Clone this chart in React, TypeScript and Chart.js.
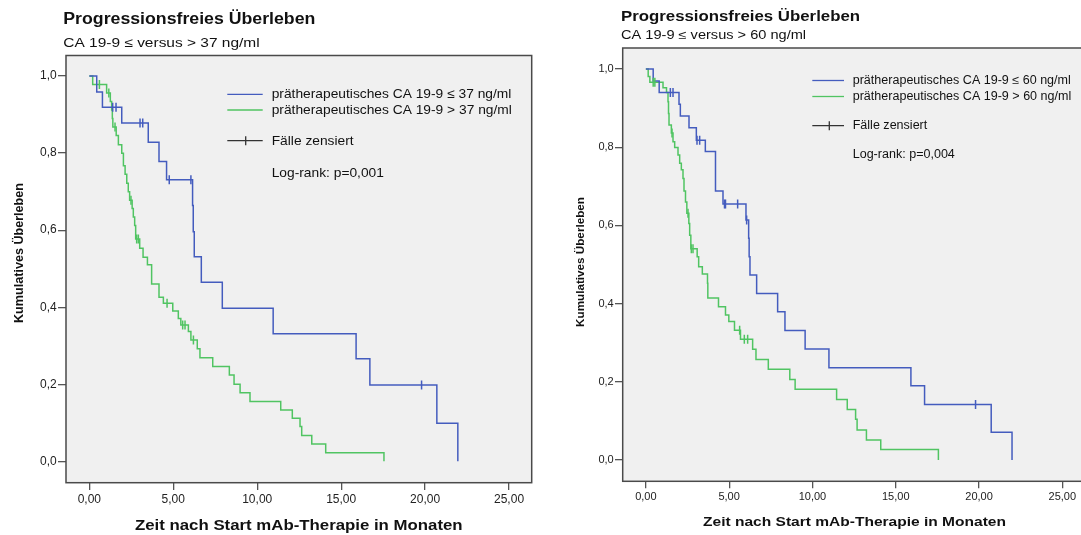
import React, { useEffect, useRef } from 'react';
import { Chart, registerables } from 'chart.js';

Chart.register(...registerables);

const FONT = '"Liberation Sans", Arial, Helvetica, sans-serif';
const BLUE = 'rgb(68, 92, 190)';
const GREEN = 'rgb(80, 196, 98)';

// ---------- axis ticks ----------
const xTickValues = [0, 5, 10, 15, 20, 25];
const xTickLabels = ['0,00', '5,00', '10,00', '15,00', '20,00', '25,00'];
const yTickValues = [0, 0.2, 0.4, 0.6, 0.8, 1.0];
const yTickLabels = ['0,0', '0,2', '0,4', '0,6', '0,8', '1,0'];

// ---------- left panel: CA 19-9 <= / > 37 ng/ml ----------
const leftLowTimes = [0, 0.44, 0.78, 1.93, 3.51, 4.15, 4.6, 6.15, 6.19, 6.25, 6.67, 7.92, 10.95, 15.89, 16.71, 20.7, 21.95];
const leftLowSurv = [1.0, 0.959, 0.919, 0.878, 0.828, 0.778, 0.731, 0.664, 0.596, 0.531, 0.465, 0.397, 0.331, 0.266, 0.198, 0.099, 0];
const leftLowCensorTimes = [1.39, 1.59, 3.02, 3.18, 4.76, 6.05, 19.79];
const leftLowCensorSurv = [0.919, 0.919, 0.878, 0.878, 0.731, 0.731, 0.198];

const leftHighTimes = [0, 0.2, 1.03, 1.25, 1.33, 1.37, 1.4, 1.6, 1.73, 1.93, 2.03, 2.13, 2.23, 2.32, 2.4, 2.55, 2.62, 2.7, 2.76, 3.0, 3.2, 3.46, 3.71, 4.15, 4.41, 4.97, 5.3, 5.45, 5.9, 6.05, 6.43, 6.59, 7.35, 8.34, 8.62, 8.98, 9.57, 11.4, 12.09, 12.55, 12.65, 13.25, 14.08, 17.55];
const leftHighSurv = [1.0, 0.978, 0.956, 0.934, 0.912, 0.89, 0.868, 0.846, 0.822, 0.8, 0.767, 0.745, 0.722, 0.7, 0.678, 0.656, 0.634, 0.612, 0.577, 0.553, 0.53, 0.51, 0.46, 0.426, 0.41, 0.39, 0.371, 0.354, 0.337, 0.315, 0.292, 0.269, 0.246, 0.224, 0.2, 0.178, 0.155, 0.133, 0.112, 0.09, 0.067, 0.045, 0.022, 0];
const leftHighCensorTimes = [0.6, 1.16, 1.53, 2.48, 2.82, 2.92, 4.63, 5.56, 5.7, 6.2];
const leftHighCensorSurv = [0.978, 0.956, 0.868, 0.678, 0.577, 0.577, 0.41, 0.354, 0.354, 0.315];

// ---------- right panel: CA 19-9 <= / > 60 ng/ml ----------
const rightLowTimes = [0, 0.44, 0.8, 1.99, 2.07, 2.59, 3.03, 3.57, 4.18, 4.63, 6.01, 6.17, 6.2, 6.25, 6.65, 7.91, 8.35, 9.56, 10.99, 15.91, 16.73, 20.73, 21.98];
const rightLowSurv = [1.0, 0.969, 0.94, 0.91, 0.88, 0.85, 0.818, 0.789, 0.688, 0.655, 0.614, 0.567, 0.52, 0.473, 0.426, 0.379, 0.331, 0.284, 0.236, 0.19, 0.142, 0.071, 0];
const rightLowCensorTimes = [1.47, 1.63, 3.07, 3.23, 4.72, 4.78, 5.51, 6.05, 19.79];
const rightLowCensorSurv = [0.94, 0.94, 0.818, 0.818, 0.655, 0.655, 0.655, 0.614, 0.142];

const rightHighTimes = [0, 0.14, 0.24, 1.03, 1.24, 1.33, 1.36, 1.39, 1.53, 1.63, 1.73, 1.93, 2.03, 2.13, 2.23, 2.29, 2.38, 2.46, 2.58, 2.63, 2.7, 3.08, 3.17, 3.39, 3.7, 3.72, 4.36, 4.78, 4.98, 5.32, 5.68, 6.41, 6.61, 7.35, 8.64, 8.96, 11.45, 12.09, 12.59, 12.68, 13.24, 14.1, 17.56];
const rightHighSurv = [1.0, 0.981, 0.966, 0.952, 0.94, 0.916, 0.886, 0.857, 0.836, 0.814, 0.799, 0.78, 0.759, 0.742, 0.72, 0.688, 0.66, 0.631, 0.605, 0.575, 0.54, 0.52, 0.494, 0.476, 0.452, 0.414, 0.392, 0.371, 0.354, 0.332, 0.309, 0.283, 0.257, 0.232, 0.206, 0.181, 0.155, 0.129, 0.104, 0.077, 0.051, 0.027, 0];
const rightHighCensorTimes = [0.44, 0.54, 1.57, 2.53, 2.73, 2.83, 5.63, 5.91, 6.11];
const rightHighCensorSurv = [0.966, 0.966, 0.836, 0.631, 0.54, 0.54, 0.332, 0.309, 0.309];

// ---------- texts ----------
const TITLE = 'Progressionsfreies Überleben';
const leftSubtitle = 'CA 19-9 ≤ versus > 37 ng/ml';
const rightSubtitle = 'CA 19-9 ≤ versus > 60 ng/ml';
const leftLegend = ['prätherapeutisches CA 19-9 ≤ 37 ng/ml', 'prätherapeutisches CA 19-9 > 37 ng/ml'];
const rightLegend = ['prätherapeutisches CA 19-9 ≤ 60 ng/ml', 'prätherapeutisches CA 19-9 > 60 ng/ml'];
const CENSOR_LABEL = 'Fälle zensiert';
const leftLogRank = 'Log-rank: p=0,001';
const rightLogRank = 'Log-rank: p=0,004';
const X_TITLE = 'Zeit nach Start mAb-Therapie in Monaten';
const Y_TITLE = 'Kumulatives Überleben';

type TextSpec = {
  text: string; x: number; y: number; font: string; sx?: number;
  align?: CanvasTextAlign; rotate?: boolean; color?: string;
};
type LegendLine = { x1: number; x2: number; y: number; color: string; tickX?: number };
type Series = { times: number[]; surv: number[]; color: string };

interface PanelSpec {
  left: number; width: number; height: number;
  area: { left: number; top: number; right: number; bottom: number };
  xRange: [number, number]; yRange: [number, number];
  tickFont: number; xTickLen: number; yTickLen: number;
  curves: Series[]; censors: Series[];
  legendLines: LegendLine[]; texts: TextSpec[];
}

const leftPanel: PanelSpec = {
  left: 0, width: 560, height: 535,
  area: { left: 66, top: 55.5, right: 531.7, bottom: 482.7 },
  xRange: [-1.39, 26.35], yRange: [-0.0556, 1.0535],
  tickFont: 12, xTickLen: 7.3, yTickLen: 8,
  curves: [
    { times: leftLowTimes, surv: leftLowSurv, color: BLUE },
    { times: leftHighTimes, surv: leftHighSurv, color: GREEN },
  ],
  censors: [
    { times: leftLowCensorTimes, surv: leftLowCensorSurv, color: BLUE },
    { times: leftHighCensorTimes, surv: leftHighCensorSurv, color: GREEN },
  ],
  legendLines: [
    { x1: 227.3, x2: 262.7, y: 94.3, color: BLUE },
    { x1: 227.3, x2: 262.7, y: 110, color: GREEN },
    { x1: 227.3, x2: 262.7, y: 140.7, color: '#333', tickX: 245.7 },
  ],
  texts: [
    { text: TITLE, x: 63.3, y: 24.3, font: `bold 16px ${FONT}`, sx: 1.107 },
    { text: leftSubtitle, x: 63.3, y: 46.5, font: `13px ${FONT}`, sx: 1.19 },
    { text: leftLegend[0], x: 271.7, y: 97.7, font: `13px ${FONT}`, sx: 1.06 },
    { text: leftLegend[1], x: 271.7, y: 113.7, font: `13px ${FONT}`, sx: 1.06 },
    { text: CENSOR_LABEL, x: 271.7, y: 145.2, font: `13px ${FONT}`, sx: 1.06 },
    { text: leftLogRank, x: 271.7, y: 176.5, font: `13px ${FONT}`, sx: 1.06 },
    { text: X_TITLE, x: 298.8, y: 529.5, font: `bold 14px ${FONT}`, sx: 1.2, align: 'center' },
    { text: Y_TITLE, x: 22.8, y: 253, font: `bold 12.6px ${FONT}`, align: 'center', rotate: true },
  ],
};

const rightPanel: PanelSpec = {
  left: 560, width: 530, height: 535,
  area: { left: 622.7, top: 48, right: 1086.3, bottom: 481.3 },
  xRange: [-1.39, 26.3], yRange: [-0.0545, 1.0537],
  tickFont: 11, xTickLen: 7, yTickLen: 7.7,
  curves: [
    { times: rightLowTimes, surv: rightLowSurv, color: BLUE },
    { times: rightHighTimes, surv: rightHighSurv, color: GREEN },
  ],
  censors: [
    { times: rightLowCensorTimes, surv: rightLowCensorSurv, color: BLUE },
    { times: rightHighCensorTimes, surv: rightHighCensorSurv, color: GREEN },
  ],
  legendLines: [
    { x1: 812.3, x2: 844, y: 80.5, color: BLUE },
    { x1: 812.3, x2: 844, y: 96.5, color: GREEN },
    { x1: 812.3, x2: 844, y: 125.7, color: '#333', tickX: 829.3 },
  ],
  texts: [
    { text: TITLE, x: 621, y: 20.5, font: `bold 15px ${FONT}`, sx: 1.12 },
    { text: rightSubtitle, x: 621, y: 38.8, font: `12px ${FONT}`, sx: 1.215 },
    { text: rightLegend[0], x: 852.7, y: 84, font: `12px ${FONT}`, sx: 1.045 },
    { text: rightLegend[1], x: 852.7, y: 100, font: `12px ${FONT}`, sx: 1.045 },
    { text: CENSOR_LABEL, x: 852.7, y: 129.2, font: `12px ${FONT}`, sx: 1.045 },
    { text: rightLogRank, x: 852.7, y: 157.8, font: `12px ${FONT}`, sx: 1.045 },
    { text: X_TITLE, x: 854.5, y: 526, font: `bold 13px ${FONT}`, sx: 1.195, align: 'center' },
    { text: Y_TITLE, x: 584, y: 262, font: `bold 11.7px ${FONT}`, align: 'center', rotate: true },
  ],
};

function drawText(ctx: CanvasRenderingContext2D, t: TextSpec, offsetX: number) {
  ctx.save();
  ctx.translate(t.x - offsetX, t.y);
  if (t.rotate) ctx.rotate(-Math.PI / 2);
  ctx.scale(t.sx ?? 1, 1);
  ctx.font = t.font;
  ctx.fillStyle = t.color ?? '#111';
  ctx.textAlign = t.align ?? 'left';
  ctx.textBaseline = 'alphabetic';
  ctx.fillText(t.text, 0, 0);
  ctx.restore();
}

function makeDecor(spec: PanelSpec) {
  return {
    id: 'panelDecor',
    beforeDraw(chart: any) {
      const { ctx, chartArea: a } = chart;
      ctx.save();
      ctx.fillStyle = '#f0f0f0';
      ctx.fillRect(a.left, a.top, a.right - a.left, a.bottom - a.top);
      ctx.restore();
    },
    afterDraw(chart: any) {
      const { ctx, chartArea: a } = chart;
      ctx.save();
      ctx.strokeStyle = '#4a4a4a';
      ctx.lineWidth = 1.5;
      ctx.strokeRect(a.left, a.top, a.right - a.left, a.bottom - a.top);
      for (const l of spec.legendLines) {
        ctx.strokeStyle = l.color;
        ctx.lineWidth = 1.3;
        ctx.beginPath();
        ctx.moveTo(l.x1 - spec.left, l.y);
        ctx.lineTo(l.x2 - spec.left, l.y);
        if (l.tickX !== undefined) {
          ctx.moveTo(l.tickX - spec.left, l.y - 4.5);
          ctx.lineTo(l.tickX - spec.left, l.y + 4.5);
        }
        ctx.stroke();
      }
      for (const t of spec.texts) drawText(ctx, t, spec.left);
      ctx.restore();
    },
  };
}

function Panel({ spec }: { spec: PanelSpec }) {
  const ref = useRef<HTMLCanvasElement>(null);
  useEffect(() => {
    const canvas = ref.current;
    if (!canvas) return;
    const datasets: any[] = [
      ...spec.censors.map((c) => ({
        data: c.times.map((t, i) => ({ x: t, y: c.surv[i] })),
        showLine: false,
        pointStyle: 'line',
        rotation: 90,
        pointRadius: 4.5,
        pointBorderWidth: 1.5,
        borderColor: c.color,
        backgroundColor: c.color,
        pointBorderColor: c.color,
        order: 1,
      })),
      ...spec.curves.map((c) => ({
        data: c.times.map((t, i) => ({ x: t, y: c.surv[i] })),
        showLine: true,
        stepped: 'before',
        borderColor: c.color,
        backgroundColor: c.color,
        borderWidth: 1.5,
        pointRadius: 0,
        fill: false,
        order: 2,
      })),
    ];
    const tickFont = { family: FONT, size: spec.tickFont };
    const chart = new Chart(canvas, {
      type: 'scatter',
      data: { datasets },
      options: {
        responsive: false,
        animation: false,
        events: [],
        devicePixelRatio: 1,
        layout: {
          padding: {
            left: 0,
            top: spec.area.top,
            right: spec.left + spec.width - spec.area.right,
            bottom: 0,
          },
        },
        plugins: {
          legend: { display: false },
          tooltip: { enabled: false },
          title: { display: false },
        },
        scales: {
          x: {
            type: 'linear',
            min: spec.xRange[0],
            max: spec.xRange[1],
            afterFit: (s: any) => { s.height = spec.height - spec.area.bottom; },
            afterBuildTicks: (s: any) => { s.ticks = xTickValues.map((v) => ({ value: v })); },
            ticks: {
              callback: (_v: any, i: number) => xTickLabels[i],
              font: tickFont,
              color: '#222',
              padding: 2,
              maxRotation: 0,
              autoSkip: false,
            },
            grid: { display: true, drawOnChartArea: false, drawTicks: true, tickLength: spec.xTickLen, color: '#555', lineWidth: 1.3 },
            border: { display: false },
          },
          y: {
            type: 'linear',
            min: spec.yRange[0],
            max: spec.yRange[1],
            afterFit: (s: any) => { s.width = spec.area.left - spec.left; },
            afterBuildTicks: (s: any) => { s.ticks = yTickValues.map((v) => ({ value: v })); },
            ticks: {
              callback: (_v: any, i: number) => yTickLabels[i],
              font: tickFont,
              color: '#222',
              padding: 1.3,
              autoSkip: false,
            },
            grid: { display: true, drawOnChartArea: false, drawTicks: true, tickLength: spec.yTickLen, color: '#555', lineWidth: 1.3 },
            border: { display: false },
          },
        },
      } as any,
      plugins: [makeDecor(spec)],
    });
    return () => chart.destroy();
  }, [spec]);
  return (
    <canvas
      ref={ref}
      width={spec.width}
      height={spec.height}
      style={{ position: 'absolute', left: spec.left, top: 0, width: spec.width, height: spec.height }}
    />
  );
}

export default function App() {
  return (
    <div style={{ position: 'absolute', left: 0, top: 0, width: 1081, height: 535, overflow: 'hidden', background: '#fff' }}>
      <Panel spec={leftPanel} />
      <Panel spec={rightPanel} />
    </div>
  );
}
